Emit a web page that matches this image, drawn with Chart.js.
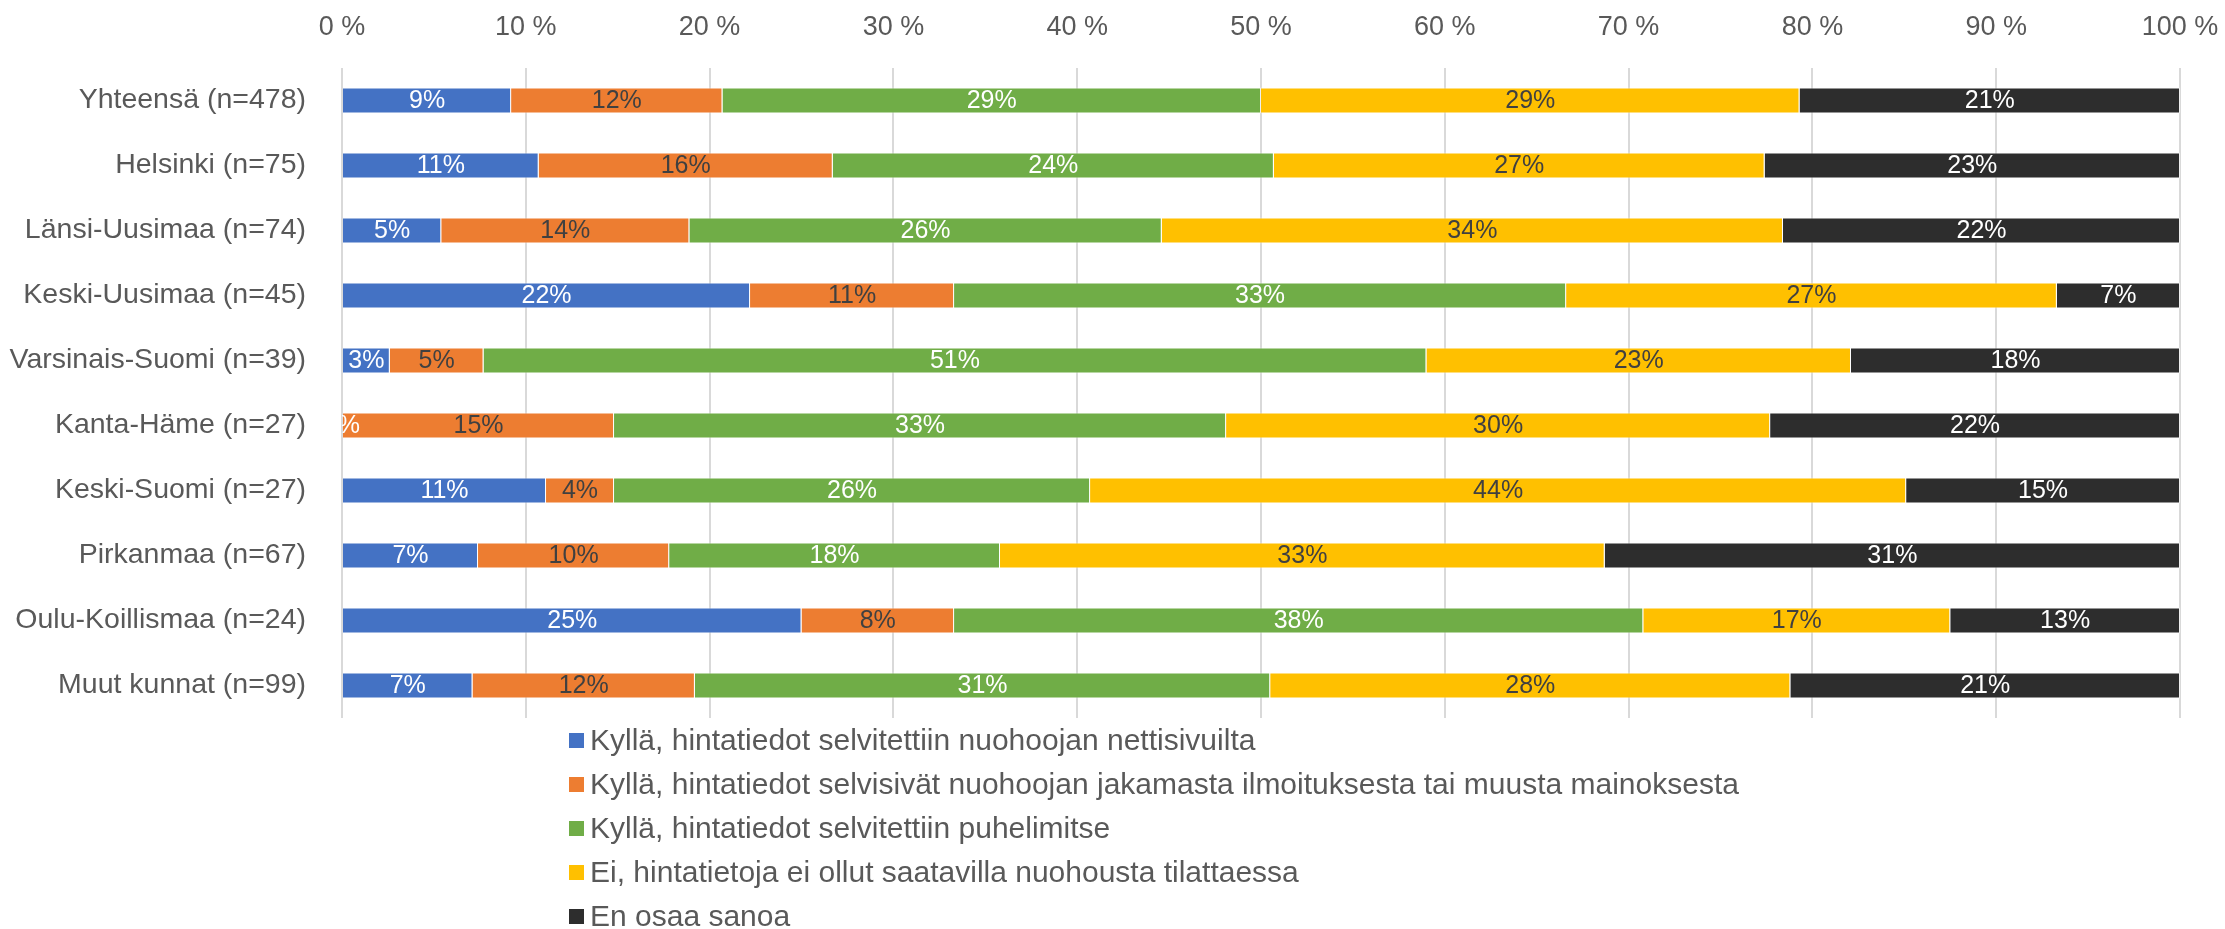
<!DOCTYPE html>
<html>
<head>
<meta charset="utf-8">
<script src="https://cdn.jsdelivr.net/npm/chart.js@4/dist/chart.umd.min.js"></script>
<style>
  html, body { margin: 0; padding: 0; background: #ffffff; }
  #wrap { width: 2225px; height: 929px; }
</style>
</head>
<body>
<div id="wrap"><canvas id="chart" width="2225" height="929"></canvas></div>
<script>
const regions = [
    'Yhteensä (n=478)', 'Helsinki (n=75)', 'Länsi-Uusimaa (n=74)', 'Keski-Uusimaa (n=45)',
    'Varsinais-Suomi (n=39)', 'Kanta-Häme (n=27)', 'Keski-Suomi (n=27)', 'Pirkanmaa (n=67)',
    'Oulu-Koillismaa (n=24)', 'Muut kunnat (n=99)'
];

const seriesNames = [
    'Kyllä, hintatiedot selvitettiin nuohoojan nettisivuilta',
    'Kyllä, hintatiedot selvisivät nuohoojan jakamasta ilmoituksesta tai muusta mainoksesta',
    'Kyllä, hintatiedot selvitettiin puhelimitse',
    'Ei, hintatietoja ei ollut saatavilla nuohousta tilattaessa',
    'En osaa sanoa'
];

// percent per region, in the same order as regions
const webSite  = [9.2, 10.7,  5.4, 22.2,  2.6,  0.0, 11.1,  7.4, 25.0,  7.1];
const flyer    = [11.5, 16.0, 13.5, 11.1,  5.1, 14.8,  3.7, 10.4,  8.3, 12.1];
const phone    = [29.3, 24.0, 25.7, 33.3, 51.3, 33.3, 25.9, 18.0, 37.5, 31.3];
const noInfo   = [29.3, 26.7, 33.8, 26.7, 23.1, 29.6, 44.4, 32.9, 16.7, 28.3];
const dontKnow = [20.7, 22.6, 21.6,  6.7, 17.9, 22.3, 14.9, 31.3, 12.5, 21.2];

const xTicks = [0, 10, 20, 30, 40, 50, 60, 70, 80, 90, 100];

const colors = ['#4472c4', '#ed7d31', '#70ad47', '#ffc000', '#2d2d2d'];
const labelColors = ['#ffffff', '#404040', '#ffffff', '#404040', '#ffffff'];
const FONT = '"Liberation Sans", Arial, sans-serif';
const GREY = '#595959';

// value labels in the middle of each segment
const segmentLabels = {
    id: 'segmentLabels',
    afterDatasetsDraw(chart) {
        const ctx = chart.ctx;
        const area = chart.chartArea;
        ctx.save();
        ctx.beginPath();
        ctx.rect(area.left, area.top, area.right - area.left, area.bottom - area.top);
        ctx.clip();
        ctx.font = '25px ' + FONT;
        ctx.textAlign = 'center';
        ctx.textBaseline = 'middle';
        chart.data.datasets.forEach((ds, i) => {
            const meta = chart.getDatasetMeta(i);
            ctx.fillStyle = labelColors[i];
            meta.data.forEach((bar, j) => {
                const p = bar.getProps(['x', 'y', 'base'], true);
                ctx.fillText(Math.round(ds.data[j]) + '%', (p.x + p.base) / 2, p.y + 1);
            });
        });
        ctx.restore();
    }
};

// Excel style legend: one item per line under the plot
const listLegend = {
    id: 'listLegend',
    afterDraw(chart) {
        const ctx = chart.ctx;
        const top = chart.chartArea.bottom + 23;
        const left = 569;
        ctx.save();
        ctx.font = '30px ' + FONT;
        ctx.textBaseline = 'middle';
        ctx.textAlign = 'left';
        chart.data.datasets.forEach((ds, i) => {
            const y = top + i * 44;
            ctx.fillStyle = ds.backgroundColor;
            ctx.fillRect(left, y - 8, 15, 15);
            ctx.fillStyle = GREY;
            ctx.fillText(ds.label, left + 21, y + 1);
        });
        ctx.restore();
    }
};

const seriesData = [webSite, flyer, phone, noInfo, dontKnow];

new Chart(document.getElementById('chart'), {
    type: 'bar',
    data: {
        labels: regions,
        datasets: seriesData.map((values, i) => ({
            label: seriesNames[i],
            data: values,
            backgroundColor: colors[i],
            borderColor: 'rgba(255, 255, 255, 0.55)',
            borderWidth: 1,
            categoryPercentage: 0.8,
            barPercentage: 0.5
        }))
    },
    options: {
        indexAxis: 'y',
        responsive: false,
        animation: false,
        layout: { padding: { top: 0, right: 0, bottom: 211, left: 0 } },
        plugins: {
            legend: { display: false },
            tooltip: { enabled: false }
        },
        scales: {
            x: {
                position: 'top',
                stacked: true,
                min: 0,
                max: 100,
                afterBuildTicks: scale => { scale.ticks = xTicks.map(v => ({ value: v })); },
                afterFit: scale => {
                    scale.height = 68;
                    scale.paddingLeft = 0;
                    scale.paddingRight = 45;
                },
                ticks: {
                    color: GREY,
                    font: { family: FONT, size: 27 },
                    padding: 24,
                    callback: v => v + ' %'
                },
                grid: { color: '#d9d9d9', lineWidth: 2, drawTicks: false },
                border: { display: false }
            },
            y: {
                stacked: true,
                afterFit: scale => { scale.width = 342; },
                ticks: {
                    color: GREY,
                    font: { family: FONT, size: 28.5 },
                    padding: 28
                },
                grid: { display: false },
                border: { display: false }
            }
        }
    },
    plugins: [segmentLabels, listLegend]
});
</script>
</body>
</html>
